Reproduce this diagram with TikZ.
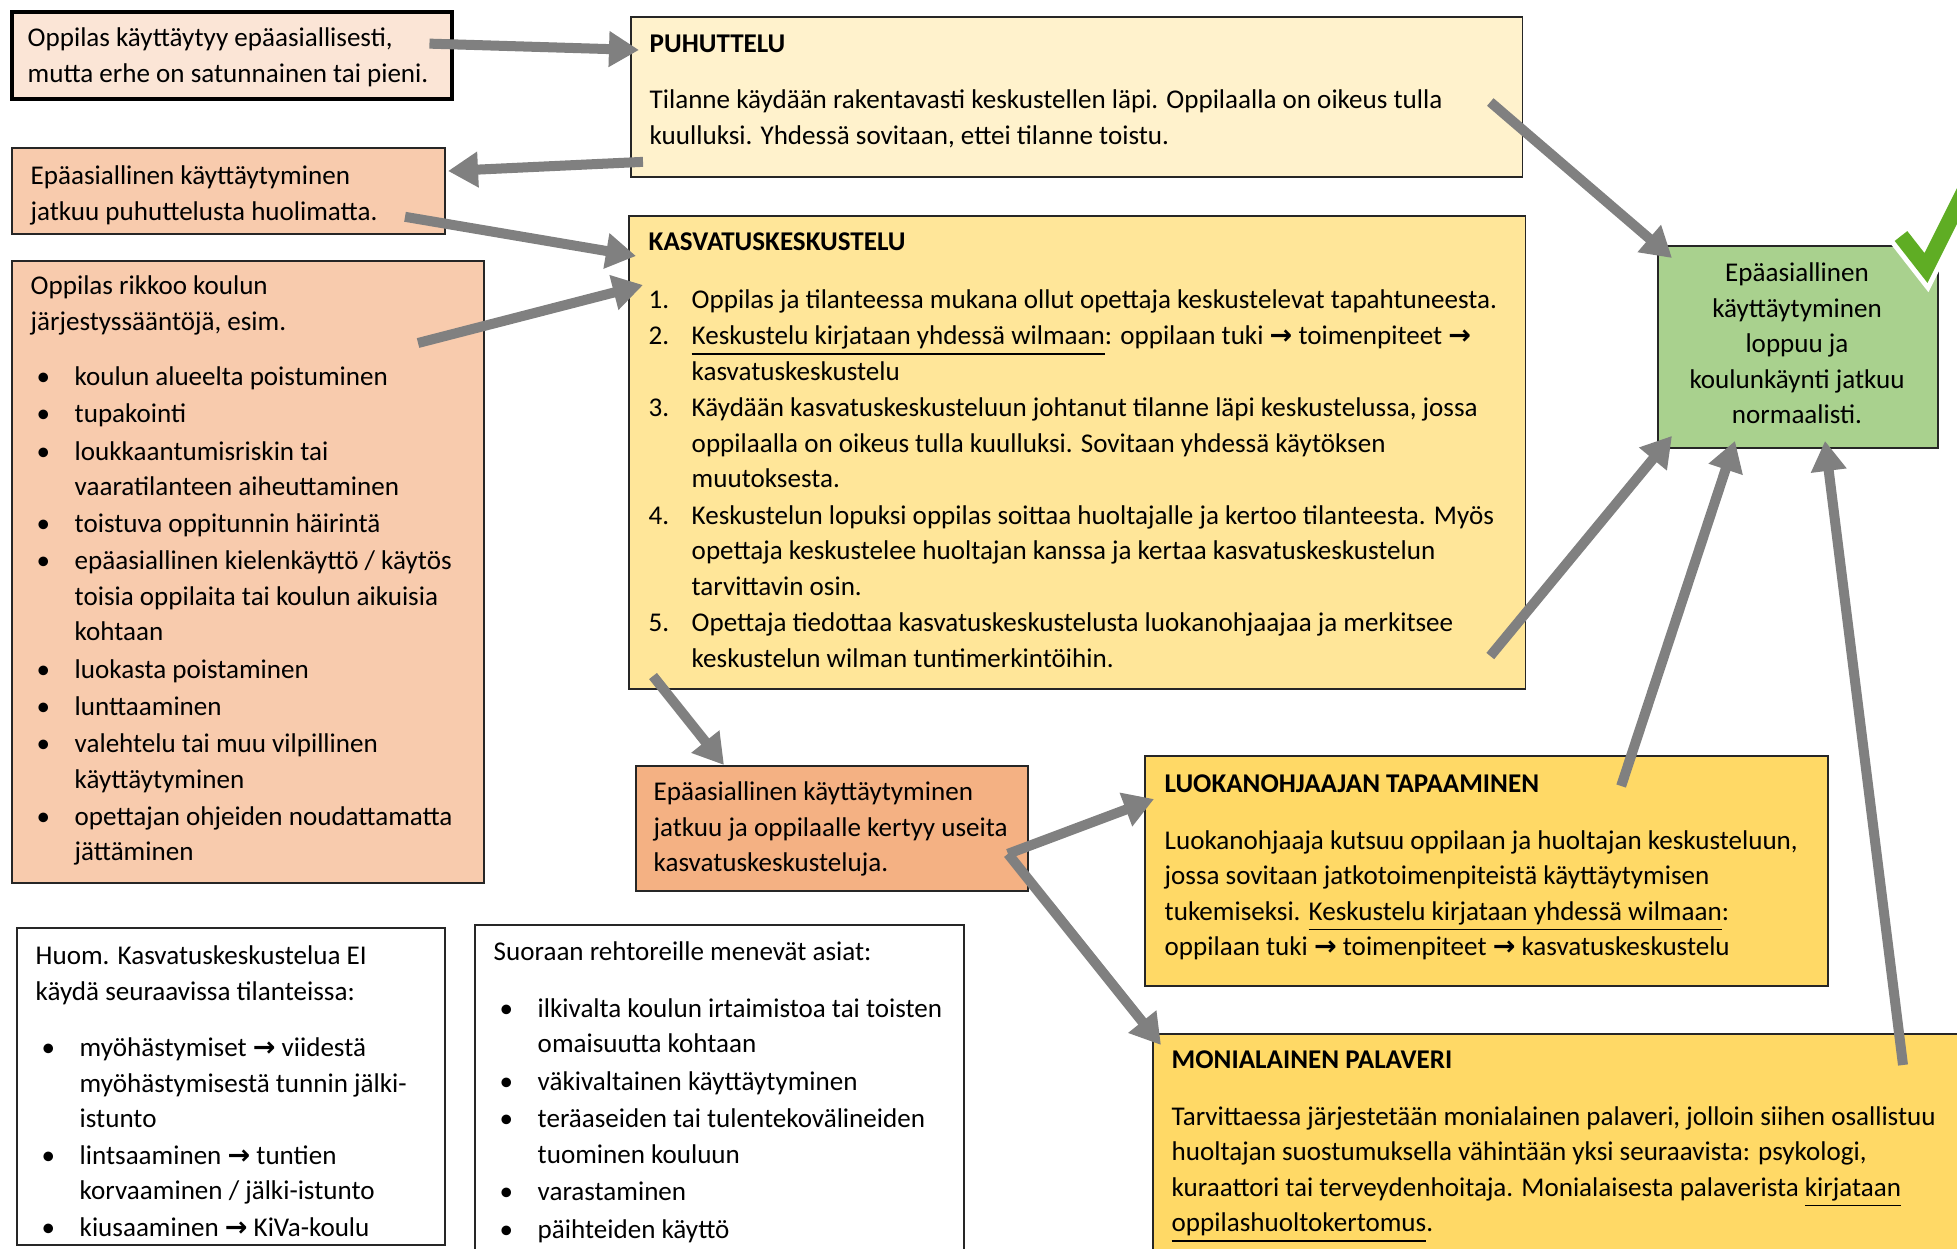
\documentclass[tikz,border=0pt]{standalone}
\usepackage{fontspec}
\setmainfont{Carlito}
\newfontfamily\symfont{DejaVu Sans}
\usetikzlibrary{arrows.meta}

\definecolor{peachA}{HTML}{FBE5D6}
\definecolor{peachB}{HTML}{F8CBAD}
\definecolor{peachD}{HTML}{F4B183}
\definecolor{creamP}{HTML}{FFF2CC}
\definecolor{yellowK}{HTML}{FFE699}
\definecolor{yellowL}{HTML}{FFD966}
\definecolor{greenE}{HTML}{A9D18E}
\definecolor{greenV}{HTML}{5FAD24}
\definecolor{arrowgray}{HTML}{808080}

\newcommand\nuoli{{\symfont\bfseries →}}
\newcommand\bu{\hspace*{0.06cm}\makebox[0.38cm][l]{•}}
\newcommand\sis{\hspace*{0.44cm}}
\newcommand\nro[1]{\makebox[0.43cm][l]{#1}}

\begin{document}
\begin{tikzpicture}[x=0.01cm, y=-0.01cm,
    font=\fontsize{7.7}{10.1}\selectfont,
    box/.style={draw=black!85, line width=0.5pt, anchor=north west, inner sep=0pt},
    txt/.style={anchor=north west, align=left, inner sep=0pt, execute at begin node=\strut},
    paksu/.style={draw=arrowgray, line width=0.1cm, -{Triangle[length=0.3cm, width=0.34cm]}}]

      \useasboundingbox (0,0) rectangle (1957,1248);
      \clip (0,0) rectangle (1957,1248);

      % laatikot
      \node[box, fill=peachA, draw=black, line width=1.2pt, minimum width=4.40cm, minimum height=0.87cm] (alku) at (10,10) {};
      \node[box, fill=creamP, minimum width=8.91cm, minimum height=1.60cm] (puh) at (630,16) {};
      \node[box, fill=peachB, minimum width=4.33cm, minimum height=0.86cm] (jatkuu) at (11,147) {};
      \node[box, fill=peachB, minimum width=4.72cm, minimum height=6.22cm] (rikkoo) at (11,260) {};
      \node[box, fill=yellowK, minimum width=8.96cm, minimum height=4.73cm] (kasv) at (628,215) {};
      \node[box, fill=greenE, minimum width=2.80cm, minimum height=2.02cm] (loppuu) at (1657,245) {};
      \node[box, fill=peachD, minimum width=3.92cm, minimum height=1.25cm] (useita) at (635,765) {};
      \node[box, fill=yellowL, minimum width=6.83cm, minimum height=2.30cm] (luokan) at (1144,755) {};
      \node[box, fill=yellowL, minimum width=8.30cm, minimum height=2.40cm] (moni) at (1152,1033) {};
      \node[box, fill=white, minimum width=4.28cm, minimum height=3.17cm] (huom) at (16,927) {};
      \node[box, fill=white, minimum width=4.89cm, minimum height=3.40cm] (rehtori) at (474,924) {};

      % tekstit
      \node[txt] (alku-t) at (27,27) {Oppilas käyttäytyy epäasiallisesti,\\ mutta erhe on satunnainen tai pieni.};
      \node[txt] (puh-t) at (649,34) {\textbf{PUHUTTELU}\\[0.21cm]
        Tilanne käydään rakentavasti keskustellen läpi. Oppilaalla on oikeus tulla\\
        kuulluksi. Yhdessä sovitaan, ettei tilanne toistu.};
      \node[txt] (jatkuu-t) at (30,165) {Epäasiallinen käyttäytyminen\\ jatkuu puhuttelusta huolimatta.};
      \node[txt] (rikkoo-t) at (30,275) {Oppilas rikkoo koulun\\ järjestyssääntöjä, esim.\\[0.2cm]
        \bu koulun alueelta poistuminen\\[0.017cm]
        \bu tupakointi\\[0.017cm]
        \bu loukkaantumisriskin tai\\ \sis vaaratilanteen aiheuttaminen\\[0.017cm]
        \bu toistuva oppitunnin häirintä\\[0.017cm]
        \bu epäasiallinen kielenkäyttö / käytös\\ \sis toisia oppilaita tai koulun aikuisia\\ \sis kohtaan\\[0.017cm]
        \bu luokasta poistaminen\\[0.017cm]
        \bu lunttaaminen\\[0.017cm]
        \bu valehtelu tai muu vilpillinen\\ \sis käyttäytyminen\\[0.017cm]
        \bu opettajan ohjeiden noudattamatta\\ \sis jättäminen};
      \node[txt] (kasv-t) at (648,232) {\textbf{KASVATUSKESKUSTELU}\\[0.22cm]
        \nro{1.}Oppilas ja tilanteessa mukana ollut opettaja keskustelevat tapahtuneesta.\\[0.01cm]
        \nro{2.}\underline{Keskustelu kirjataan yhdessä wilmaan}: oppilaan tuki \nuoli{} toimenpiteet \nuoli\\ \nro{}kasvatuskeskustelu\\[0.01cm]
        \nro{3.}Käydään kasvatuskeskusteluun johtanut tilanne läpi keskustelussa, jossa\\ \nro{}oppilaalla on oikeus tulla kuulluksi. Sovitaan yhdessä käytöksen\\ \nro{}muutoksesta.\\[0.01cm]
        \nro{4.}Keskustelun lopuksi oppilas soittaa huoltajalle ja kertoo tilanteesta. Myös\\ \nro{}opettaja keskustelee huoltajan kanssa ja kertaa kasvatuskeskustelun\\ \nro{}tarvittavin osin.\\[0.01cm]
        \nro{5.}Opettaja tiedottaa kasvatuskeskustelusta luokanohjaajaa ja merkitsee\\ \nro{}keskustelun wilman tuntimerkintöihin.};
      \node[anchor=north, align=center, inner sep=0pt, execute at begin node=\strut] (loppuu-t) at (1797,262) {Epäasiallinen\\ käyttäytyminen\\ loppuu ja\\ koulunkäynti jatkuu\\ normaalisti.};
      \node[txt] (useita-t) at (653,781) {Epäasiallinen käyttäytyminen\\ jatkuu ja oppilaalle kertyy useita\\ kasvatuskeskusteluja.};
      \node[txt] (luokan-t) at (1164,774) {\textbf{LUOKANOHJAAJAN TAPAAMINEN}\\[0.21cm]
        Luokanohjaaja kutsuu oppilaan ja huoltajan keskusteluun,\\
        jossa sovitaan jatkotoimenpiteistä käyttäytymisen\\
        tukemiseksi. \underline{Keskustelu kirjataan yhdessä wilmaan}:\\
        oppilaan tuki \nuoli{} toimenpiteet \nuoli{} kasvatuskeskustelu};
      \node[txt] (moni-t) at (1171,1050) {\textbf{MONIALAINEN PALAVERI}\\[0.21cm]
        Tarvittaessa järjestetään monialainen palaveri, jolloin siihen osallistuu\\
        huoltajan suostumuksella vähintään yksi seuraavista: psykologi,\\
        kuraattori tai terveydenhoitaja. Monialaisesta palaverista \underline{kirjataan}\\
        \underline{oppilashuoltokertomus}.};
      \begin{scope}
        \clip (huom.north west) rectangle (huom.south east);
        \node[txt] (huom-t) at (35,945) {Huom. Kasvatuskeskustelua EI\\ käydä seuraavissa tilanteissa:\\[0.21cm]
          \bu myöhästymiset \nuoli{} viidestä\\ \sis myöhästymisestä tunnin jälki-\\ \sis istunto\\[0.01cm]
          \bu lintsaaminen \nuoli{} tuntien\\ \sis korvaaminen / jälki-istunto\\[0.01cm]
          \bu kiusaaminen \nuoli{} KiVa-koulu};
      \end{scope}
      \node[txt] (rehtori-t) at (493,941) {Suoraan rehtoreille menevät asiat:\\[0.21cm]
        \bu ilkivalta koulun irtaimistoa tai toisten\\ \sis omaisuutta kohtaan\\[0.02cm]
        \bu väkivaltainen käyttäytyminen\\[0.02cm]
        \bu teräaseiden tai tulentekovälineiden\\ \sis tuominen kouluun\\[0.02cm]
        \bu varastaminen\\[0.02cm]
        \bu päihteiden käyttö};

      % nuolet
      \draw[paksu] ([shift={(-25,-12)}]alku.east) -- ([shift={(9,34)}]puh.north west);
      \draw[paksu] ([shift={(13,-16)}]puh.south west) -- ([shift={(2,24)}]jatkuu.north east);
      \draw[paksu] ([shift={(-41,-18)}]jatkuu.south east) -- ([shift={(8,41)}]kasv.north west);
      \draw[paksu] ([shift={(-67,83)}]rikkoo.north east) -- ([shift={(15,70)}]kasv.north west);
      \draw[paksu] ([shift={(-33,86)}]puh.north east) -- ([shift={(15,13)}]loppuu.north west);
      \draw[paksu] ([shift={(25,-14)}]kasv.south west) -- ([shift={(89,0)}]useita.north west);
      \draw[paksu] ([shift={(-36,-34)}]kasv.south east) -- ([shift={(15,-13)}]loppuu.south west);
      \draw[paksu] ([shift={(-21,-38)}]useita.south east) -- ([shift={(10,44)}]luokan.north west);
      \draw[paksu] ([shift={(-21,-38)}]useita.south east) -- ([shift={(9,12)}]moni.north west);
      \draw[paksu] ([shift={(-208,31)}]luokan.north east) -- ([shift={(78,-8)}]loppuu.south west);
      \draw[paksu] ([shift={(751,32)}]moni.north west) -- ([shift={(168,-8)}]loppuu.south west);

      % ruksi
      \draw[white, line width=0.26cm] (1901,236) -- (1926,268) -- (1978,164);
      \draw[greenV, line width=0.16cm] (1901,236) -- (1926,268) -- (1978,164);
\end{tikzpicture}
\end{document}
